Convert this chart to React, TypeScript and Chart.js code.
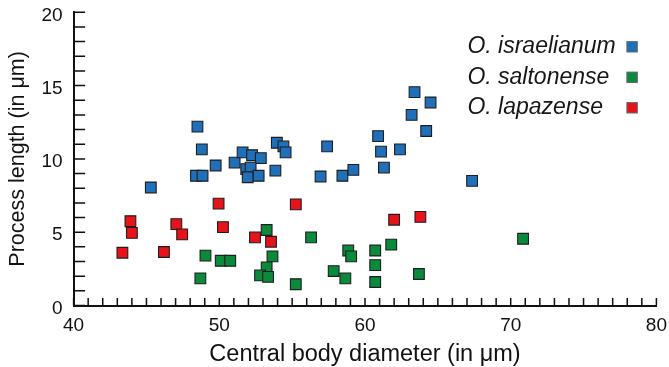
import React, { useEffect, useRef } from 'react';
import { Chart, registerables } from 'chart.js';
Chart.register(...registerables);

// ---- data ----
const seriesNames = ['O. israelianum', 'O. saltonense', 'O. lapazense'];
const seriesColors = ['#1f6fb9', '#0b8a3b', '#e8121b'];

const israelianumX = [45.3, 48.5, 48.8, 48.4, 48.85, 49.75, 51.05, 51.6, 52.25, 52.85, 51.85, 52.15, 51.95, 52.7, 53.85, 53.95, 54.4, 54.55, 56.95, 57.4, 58.45, 59.2, 60.9, 61.1, 61.3, 62.4, 63.2, 63.4, 64.5, 64.2, 67.35];
const israelianumY = [8.05, 12.2, 10.65, 8.85, 8.85, 9.55, 9.75, 10.45, 10.25, 10.05, 9.3, 9.4, 8.75, 8.85, 9.2, 11.1, 10.85, 10.45, 8.8, 10.85, 8.85, 9.25, 11.55, 10.5, 9.4, 10.65, 13.0, 14.55, 13.85, 11.9, 8.5];

const saltonenseX = [53.25, 56.3, 49.05, 50.1, 50.75, 53.65, 53.25, 52.8, 53.35, 48.7, 55.25, 57.85, 58.65, 58.85, 59.05, 60.7, 60.7, 60.7, 61.8, 63.7, 70.85];
const saltonenseY = [5.15, 4.65, 3.4, 3.05, 3.05, 3.35, 2.6, 2.05, 1.95, 1.85, 1.45, 2.35, 1.85, 3.75, 3.35, 3.75, 2.75, 1.6, 4.15, 2.15, 4.55];

const lapazenseX = [43.9, 44.0, 43.35, 46.2, 47.05, 47.45, 49.95, 50.25, 52.45, 53.55, 55.25, 62.0, 63.8];
const lapazenseY = [5.75, 4.95, 3.6, 3.65, 5.55, 4.85, 6.95, 5.35, 4.65, 4.35, 6.9, 5.85, 6.05];

const xLabeledTicks = [40, 50, 60, 70, 80];
const yLabeledTicks = [0, 5, 10, 15, 20];

const FONT = '"Liberation Sans", Arial, Helvetica, sans-serif';

const toPoints = (xs: number[], ys: number[]) => xs.map((x, i) => ({ x, y: ys[i] }));

const zeroPad = (s: any) => {
  s.paddingLeft = 0;
  s.paddingRight = 0;
  s.paddingTop = 0;
  s.paddingBottom = 0;
};

const insideTicks = {
  id: 'insideTicks',
  beforeDatasetsDraw(chart: any) {
    const { ctx, chartArea, scales } = chart;
    ctx.save();
    ctx.strokeStyle = '#111';
    ctx.lineWidth = 1.5;
    ctx.beginPath();
    scales.x.ticks.forEach((t: any) => {
      const px = scales.x.getPixelForValue(t.value);
      ctx.moveTo(px, chartArea.bottom);
      ctx.lineTo(px, chartArea.bottom - 7.5);
    });
    scales.y.ticks.forEach((t: any) => {
      const py = scales.y.getPixelForValue(t.value);
      ctx.moveTo(chartArea.left, py);
      ctx.lineTo(chartArea.left + 11.5, py);
    });
    ctx.stroke();
    ctx.restore();
  },
};

const rightLegend = {
  id: 'rightLegend',
  afterDraw(chart: any) {
    const { ctx, chartArea } = chart;
    ctx.save();
    ctx.font = `italic 23px ${FONT}`;
    ctx.textBaseline = 'middle';
    ctx.textAlign = 'left';
    chart.data.datasets.forEach((ds: any, i: number) => {
      const cy = chartArea.top + 34.5 + i * 30.5;
      ctx.fillStyle = '#161616';
      ctx.fillText(ds.label, chartArea.right - 189, cy);
      const bx = chartArea.right - 29.5;
      ctx.fillStyle = ds.backgroundColor;
      ctx.fillRect(bx, cy - 5.2, 10.4, 10.4);
      ctx.strokeStyle = '#666';
      ctx.lineWidth = 1;
      ctx.strokeRect(bx, cy - 5.2, 10.4, 10.4);
    });
    ctx.restore();
  },
};

export default function App() {
  const ref = useRef<HTMLCanvasElement | null>(null);
  useEffect(() => {
    if (!ref.current) return;
    const mk = (i: number, xs: number[], ys: number[]) => ({
      label: seriesNames[i],
      data: toPoints(xs, ys),
      backgroundColor: seriesColors[i],
      borderColor: '#1e1e1e',
      borderWidth: 1.1,
      pointStyle: 'rect',
      pointRadius: 7.6,
      pointHoverRadius: 7.6,
    });
    const chart = new Chart(ref.current, {
      type: 'scatter',
      data: {
        datasets: [
          mk(0, israelianumX, israelianumY),
          mk(1, saltonenseX, saltonenseY),
          mk(2, lapazenseX, lapazenseY),
        ],
      },
      options: {
        animation: false,
        responsive: false,
        layout: { padding: { top: 12.3, right: 12.6, bottom: 0, left: 0 } },
        plugins: { legend: { display: false }, tooltip: { enabled: false } },
        scales: {
          x: {
            type: 'linear',
            min: 40,
            max: 80,
            afterFit: (s: any) => { s.height = 61.5; zeroPad(s); },
            grid: { display: false, drawTicks: false },
            border: { display: true, color: '#111', width: 2 },
            ticks: {
              stepSize: 1,
              autoSkip: false,
              maxRotation: 0,
              padding: 9,
              color: '#111',
              font: { family: FONT, size: 19 },
              callback: (v: any) => (xLabeledTicks.includes(Number(v)) ? String(v) : ''),
            },
            title: {
              display: true,
              text: 'Central body diameter (in μm)',
              color: '#111',
              font: { family: FONT, size: 23.5, lineHeight: 1 },
              padding: { top: 0, bottom: 1 },
            },
          },
          y: {
            type: 'linear',
            min: 0,
            max: 20,
            afterFit: (s: any) => { s.width = 73.6; zeroPad(s); },
            grid: { display: false, drawTicks: false },
            border: { display: true, color: '#111', width: 2 },
            ticks: {
              stepSize: 1,
              autoSkip: false,
              padding: 11,
              labelOffset: 3,
              color: '#111',
              font: { family: FONT, size: 19 },
              callback: (v: any) => (yLabeledTicks.includes(Number(v)) ? String(v) : ''),
            },
            title: {
              display: true,
              text: 'Process length (in μm)',
              color: '#111',
              font: { family: FONT, size: 21.5, lineHeight: 1 },
              padding: { top: 7, bottom: 0 },
            },
          },
        },
      },
      plugins: [insideTicks, rightLegend],
    });
    return () => chart.destroy();
  }, []);
  return (
    <div style={{ position: 'absolute', left: 0, top: 0, width: 669, height: 367, background: '#fff' }}>
      <canvas ref={ref} width={669} height={367} />
    </div>
  );
}
